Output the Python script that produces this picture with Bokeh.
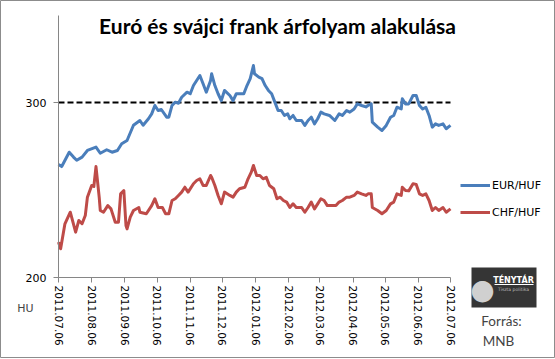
import pandas as pd
from bokeh.plotting import figure
from bokeh.models import (FixedTicker, DatetimeTickFormatter, Legend, LegendItem,
                          Label, BoxAnnotation, Range1d)
from bokeh.embed import file_html
from bokeh.resources import INLINE

# ---------------- data ----------------
series_names = ["EUR/HUF", "CHF/HUF"]

eur_dates = [
    "2011-07-06", "2011-07-09", "2011-07-16", "2011-07-20", "2011-07-23", "2011-07-28",
    "2011-08-02", "2011-08-10", "2011-08-14", "2011-08-20", "2011-08-25", "2011-08-30",
    "2011-09-03", "2011-09-08", "2011-09-14", "2011-09-20", "2011-09-23", "2011-09-28",
    "2011-10-01", "2011-10-04", "2011-10-07", "2011-10-10", "2011-10-15", "2011-10-17",
    "2011-10-20", "2011-10-23", "2011-10-26", "2011-10-29", "2011-11-03", "2011-11-06",
    "2011-11-09", "2011-11-12", "2011-11-15", "2011-11-18", "2011-11-21", "2011-11-25",
    "2011-11-26", "2011-11-29", "2011-12-02", "2011-12-05", "2011-12-08", "2011-12-13",
    "2011-12-16", "2011-12-19", "2011-12-26", "2011-12-29", "2012-01-01", "2012-01-04",
    "2012-01-05", "2012-01-09", "2012-01-12", "2012-01-15", "2012-01-18", "2012-01-21",
    "2012-01-24", "2012-01-27", "2012-01-30", "2012-02-02", "2012-02-05", "2012-02-07",
    "2012-02-10", "2012-02-13", "2012-02-18", "2012-02-21", "2012-02-24", "2012-02-27",
    "2012-03-01", "2012-03-04", "2012-03-07", "2012-03-10", "2012-03-15", "2012-03-20",
    "2012-03-24", "2012-03-27", "2012-03-31", "2012-04-03", "2012-04-07", "2012-04-10",
    "2012-04-14", "2012-04-18", "2012-04-20", "2012-04-23", "2012-04-24", "2012-04-29",
    "2012-05-03", "2012-05-07", "2012-05-11", "2012-05-14", "2012-05-17", "2012-05-21",
    "2012-05-22", "2012-05-25", "2012-05-28", "2012-06-01", "2012-06-04", "2012-06-07",
    "2012-06-10", "2012-06-13", "2012-06-16", "2012-06-19", "2012-06-22", "2012-06-25",
    "2012-06-29", "2012-07-02", "2012-07-06",
]
eur_values = [
    264.6, 263.4, 271.6, 268.8, 267.0, 268.8,
    272.6, 274.5, 271.0, 273.0, 271.6, 272.6,
    276.4, 278.3, 287.0, 289.7, 287.0, 290.7,
    293.5, 298.3, 295.4, 296.0, 291.6, 291.6,
    298.3, 300.2, 299.6, 303.0, 305.9, 305.0,
    309.7, 312.6, 315.4, 310.7, 305.9, 312.6,
    316.4, 309.7, 305.0, 301.1, 306.9, 304.0,
    301.1, 305.0, 305.0, 309.7, 313.6, 321.1,
    316.4, 314.5, 313.6, 309.7, 306.9, 305.0,
    300.2, 295.4, 295.4, 292.6, 293.5, 290.7,
    292.6, 289.7, 289.7, 286.9, 289.7, 291.6,
    287.8, 290.7, 294.5, 293.5, 292.6, 289.7,
    293.5, 292.6, 295.4, 294.5, 296.3, 299.2,
    298.3, 297.5, 298.3, 299.2, 288.8, 285.9,
    284.0, 286.9, 291.6, 292.6, 297.3, 296.3,
    302.1, 299.2, 299.2, 304.0, 304.0, 298.3,
    296.3, 297.3, 292.6, 285.9, 287.8, 286.9,
    287.8, 285.0, 286.9,
]

chf_dates = [
    "2011-07-06", "2011-07-08", "2011-07-12", "2011-07-17", "2011-07-22", "2011-07-25",
    "2011-07-28", "2011-07-31", "2011-08-02", "2011-08-06", "2011-08-08", "2011-08-10",
    "2011-08-13", "2011-08-14", "2011-08-17", "2011-08-21", "2011-08-24", "2011-08-28",
    "2011-08-31", "2011-09-02", "2011-09-05", "2011-09-07", "2011-09-08", "2011-09-11",
    "2011-09-14", "2011-09-19", "2011-09-20", "2011-09-26", "2011-10-01", "2011-10-04",
    "2011-10-07", "2011-10-11", "2011-10-14", "2011-10-17", "2011-10-20", "2011-10-23",
    "2011-10-26", "2011-10-29", "2011-11-01", "2011-11-04", "2011-11-09", "2011-11-12",
    "2011-11-15", "2011-11-18", "2011-11-21", "2011-11-25", "2011-11-26", "2011-11-29",
    "2011-12-02", "2011-12-05", "2011-12-08", "2011-12-13", "2011-12-16", "2011-12-19",
    "2011-12-22", "2011-12-27", "2011-12-30", "2012-01-02", "2012-01-04", "2012-01-07",
    "2012-01-10", "2012-01-13", "2012-01-16", "2012-01-19", "2012-01-23", "2012-01-26",
    "2012-01-29", "2012-02-01", "2012-02-04", "2012-02-07", "2012-02-10", "2012-02-13",
    "2012-02-18", "2012-02-21", "2012-02-24", "2012-02-27", "2012-03-01", "2012-03-04",
    "2012-03-07", "2012-03-10", "2012-03-13", "2012-03-18", "2012-03-21", "2012-03-24",
    "2012-03-27", "2012-03-31", "2012-04-03", "2012-04-07", "2012-04-10", "2012-04-14",
    "2012-04-18", "2012-04-20", "2012-04-23", "2012-04-24", "2012-04-29", "2012-05-03",
    "2012-05-07", "2012-05-11", "2012-05-14", "2012-05-17", "2012-05-21", "2012-05-22",
    "2012-05-25", "2012-05-28", "2012-06-01", "2012-06-04", "2012-06-07", "2012-06-10",
    "2012-06-13", "2012-06-16", "2012-06-19", "2012-06-22", "2012-06-25", "2012-06-29",
    "2012-07-02", "2012-07-06",
]
chf_values = [
    220.2, 216.4, 230.7, 237.3, 225.9, 232.6,
    230.7, 235.4, 245.9, 252.6, 252.0, 263.4,
    245.9, 238.3, 237.3, 241.1, 239.2, 231.6,
    231.6, 247.8, 249.7, 229.7, 227.8, 234.5,
    238.3, 240.0, 237.3, 236.4, 241.1, 245.0,
    240.0, 240.0, 236.4, 236.4, 244.0, 245.0,
    246.9, 248.8, 251.6, 248.8, 253.6, 255.4,
    256.4, 252.6, 252.6, 258.3, 257.3, 252.6,
    246.9, 242.1, 248.8, 246.9, 245.9, 248.8,
    250.7, 251.6, 256.4, 260.2, 264.0, 258.3,
    258.3, 256.4, 257.3, 252.6, 250.7, 245.0,
    245.9, 244.0, 243.1, 240.0, 242.1, 240.0,
    240.0, 237.3, 240.0, 243.1, 239.2, 242.1,
    245.0, 244.0, 241.1, 241.1, 241.1, 243.1,
    244.0, 245.9, 245.9, 246.9, 248.8, 247.8,
    246.9, 247.8, 247.8, 240.0, 238.3, 236.4,
    238.3, 242.1, 243.1, 247.8, 246.9, 251.6,
    249.7, 249.5, 253.6, 253.2, 247.8, 246.9,
    247.8, 244.0, 238.3, 240.0, 238.3, 240.0,
    237.3, 239.2,
]

tick_dates = [
    "2011-07-06", "2011-08-06", "2011-09-06", "2011-10-06", "2011-11-06", "2011-12-06",
    "2012-01-06", "2012-02-06", "2012-03-06", "2012-04-06", "2012-05-06", "2012-06-06",
    "2012-07-06",
]
y_ticks = [200, 300]
reference_level = 300
y_min, y_max = 200, 350

# ---------------- layout (pixel geometry of the reference) ----------------
W, H = 555, 359
FRAME_BOTTOM = 357          # frame covers the canvas; axes are placed at fixed locations
AXIS_LEFT_PX, AXIS_RIGHT_PX = 58, 450
Y200_PX, Y300_PX = 277, 102
Y_TOP_PX = 15

start = pd.Timestamp(tick_dates[0])
end = pd.Timestamp(tick_dates[-1])
px_per_day = (AXIS_RIGHT_PX - AXIS_LEFT_PX) / (end - start).days
px_per_unit = (Y200_PX - Y300_PX) / 100.0

def X(px):
    return start + pd.Timedelta(days=(px - AXIS_LEFT_PX) / px_per_day)

def Y(py):
    return y_min + (Y200_PX - py) / px_per_unit

def ms(t):
    return pd.Timestamp(t).value / 1e6

AX_GREY = "#868686"
BLUE = "#4A7EBB"
RED = "#BE4B48"

p = figure(width=W, height=H, x_axis_type="datetime",
           x_range=Range1d(X(0), X(W)), y_range=Range1d(Y(FRAME_BOTTOM), Y(0)),
           output_backend="svg", toolbar_location=None,
           min_border_left=0, min_border_right=0,
           min_border_top=0, min_border_bottom=H - FRAME_BOTTOM)
p.outline_line_color = "#8c8c8c"
p.outline_line_width = 1
p.xgrid.visible = False
p.ygrid.visible = False
p.background_fill_color = "white"
p.border_fill_color = "white"

eur_x = pd.to_datetime(eur_dates)
chf_x = pd.to_datetime(chf_dates)

p.line([start, end], [reference_level, reference_level], line_color="black",
       line_width=2, line_dash="6 3")
r_eur = p.line(eur_x, eur_values, line_color=BLUE, line_width=3, line_join="round")
r_chf = p.line(chf_x, chf_values, line_color=RED, line_width=3, line_join="round")

# axes, pinned at their data positions inside the frame
tick_ms = [ms(d) for d in tick_dates]
xa, ya = p.xaxis[0], p.yaxis[0]
xa.fixed_location = y_min
ya.fixed_location = tick_ms[0]
xa.ticker = FixedTicker(ticks=tick_ms)
fmt = "%Y.%m.%d"
xa.formatter = DatetimeTickFormatter(
    milliseconds=fmt, seconds=fmt, minsec=fmt, minutes=fmt, hourmin=fmt,
    hours=fmt, days=fmt, months=fmt, years=fmt)
xa.bounds = (tick_ms[0], tick_ms[-1])
xa.major_label_orientation = "vertical"
ya.ticker = FixedTicker(ticks=y_ticks)
ya.bounds = (y_min, Y(Y_TOP_PX))
for ax in (xa, ya):
    ax.axis_line_color = AX_GREY
    ax.major_tick_line_color = AX_GREY
    ax.minor_tick_line_color = None
    ax.major_tick_in = 0
    ax.major_tick_out = 5
    ax.major_label_text_font = "DejaVu Sans"
    ax.major_label_text_color = "black"
xa.major_label_text_font_size = "10.5px"
xa.major_label_standoff = 3
ya.major_label_text_font_size = "11px"
ya.major_label_standoff = 7

legend = Legend(items=[LegendItem(label=series_names[0], renderers=[r_eur]),
                       LegendItem(label=series_names[1], renderers=[r_chf])],
                location=(460, FRAME_BOTTOM - 222), orientation="vertical")
legend.glyph_width = 30
legend.glyph_height = 20
legend.label_height = 20
legend.label_standoff = 2
legend.spacing = 7
legend.padding = 0
legend.margin = 0
legend.border_line_color = None
legend.background_fill_alpha = 0
legend.label_text_font = "DejaVu Sans"
legend.label_text_font_size = "11px"
legend.label_text_color = "black"
p.add_layout(legend)

# title and notes
p.add_layout(Label(x=X(277), y=Y(25), text="Euró és svájci frank árfolyam alakulása",
                   text_font="Lato", text_font_style="bold", text_font_size="21px",
                   text_align="center", text_baseline="middle", text_color="black"))
p.add_layout(Label(x=X(25), y=Y(308), text="HU", text_font="DejaVu Sans",
                   text_font_size="11px", text_align="center", text_baseline="middle"))
p.add_layout(Label(x=X(501), y=Y(320), text="Forrás:", text_font="Lato",
                   text_font_size="13.5px", text_align="center", text_baseline="middle"))
p.add_layout(Label(x=X(498), y=Y(340), text="MNB", text_font="Lato",
                   text_font_size="13.5px", text_align="center", text_baseline="middle"))

# logo
p.add_layout(BoxAnnotation(left=X(471), right=X(536), top=Y(267), bottom=Y(307),
                           fill_color="#353535", fill_alpha=1, line_color=None))
p.add_layout(Label(x=X(482), y=Y(289), text="\u25CF", text_color="#d0d0d0",
                   text_font="DejaVu Sans", text_font_size="28px",
                   text_align="center", text_baseline="middle"))
p.add_layout(Label(x=X(513), y=Y(280), text="TÉNYTÁR", text_color="white",
                   text_font="DejaVu Sans", text_font_style="bold", text_font_size="8px",
                   text_align="center", text_baseline="middle"))
p.add_layout(BoxAnnotation(left=X(494), right=X(533), top=Y(283.5), bottom=Y(284.5),
                           fill_color="white", fill_alpha=1, line_color=None))
p.add_layout(Label(x=X(513), y=Y(289), text="Tiszta politika", text_color="#bbbbbb",
                   text_font="DejaVu Sans", text_font_size="4.5px",
                   text_align="center", text_baseline="middle"))

open("out.html", "w").write(file_html(p, INLINE))
